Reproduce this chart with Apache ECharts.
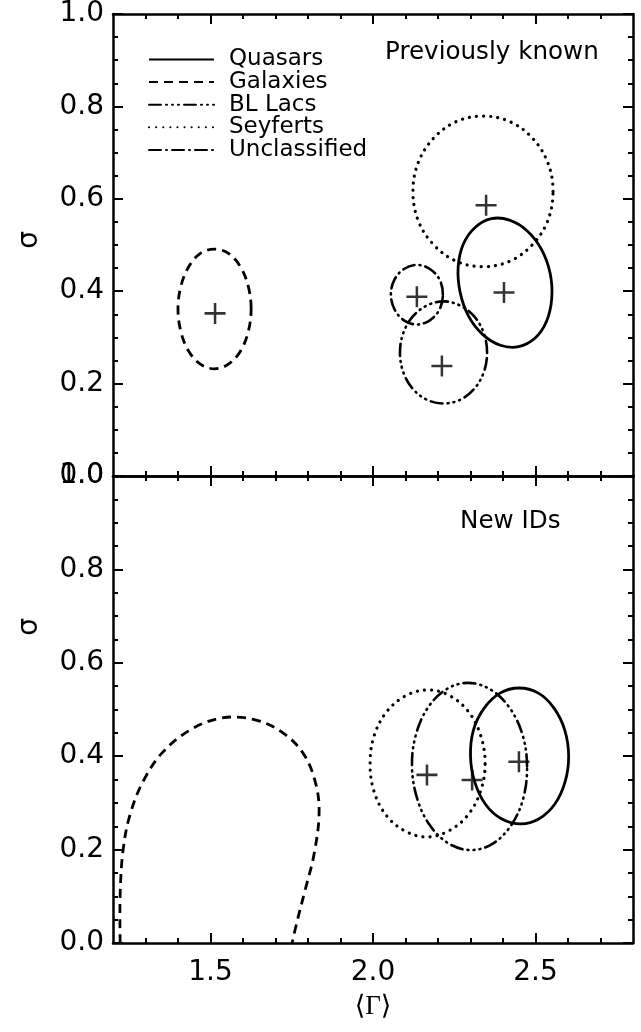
<!DOCTYPE html>
<html>
<head>
<meta charset="utf-8">
<script src="https://cdn.jsdelivr.net/npm/echarts@6/dist/echarts.min.js"></script>
<style>
  html, body { margin: 0; padding: 0; background: #fff; }
  #chart { width: 641px; height: 1032px; }
</style>
</head>
<body>
<div id="chart"></div>
<script>
// Axis ranges and tick positions
const xRange = [1.2, 2.8];
const yRange = [0, 1];
const xMajorTicks = [1.5, 2.0, 2.5];
const xMinorTicks = [1.3, 1.4, 1.6, 1.7, 1.8, 1.9, 2.1, 2.2, 2.3, 2.4, 2.6, 2.7];
const yMajorStep = 0.2;

const classNames = ['Quasars', 'Galaxies', 'BL Lacs', 'Seyferts', 'Unclassified'];

// Panel 1: previously known sources — confidence contours in (<Gamma>, sigma)
const knownQuasars = [[2.448,0.280],[2.498,0.298],[2.534,0.335],[2.550,0.385],[2.545,0.439],[2.518,0.491],[2.474,0.531],[2.420,0.554],[2.364,0.557],[2.314,0.538],[2.278,0.502],[2.262,0.452],[2.268,0.398],[2.294,0.346],[2.338,0.306],[2.392,0.283]];
const knownGalaxies = [[1.625,0.362],[1.616,0.411],[1.592,0.453],[1.555,0.482],[1.512,0.491],[1.469,0.482],[1.433,0.453],[1.409,0.411],[1.400,0.362],[1.409,0.312],[1.433,0.270],[1.469,0.242],[1.512,0.232],[1.555,0.242],[1.592,0.270],[1.616,0.312]];
const knownBLLacs = [[2.351,0.267],[2.341,0.309],[2.312,0.345],[2.268,0.369],[2.217,0.378],[2.166,0.369],[2.122,0.345],[2.093,0.309],[2.083,0.267],[2.093,0.225],[2.122,0.189],[2.166,0.165],[2.217,0.157],[2.268,0.165],[2.312,0.189],[2.341,0.225]];
const knownSeyferts = [[2.554,0.616],[2.538,0.678],[2.491,0.731],[2.421,0.767],[2.338,0.779],[2.256,0.767],[2.186,0.731],[2.139,0.678],[2.123,0.616],[2.139,0.553],[2.186,0.501],[2.256,0.465],[2.338,0.453],[2.421,0.465],[2.491,0.501],[2.538,0.553]];
const knownUnclassified = [[2.215,0.393],[2.205,0.425],[2.175,0.448],[2.135,0.457],[2.095,0.448],[2.066,0.425],[2.055,0.393],[2.066,0.361],[2.095,0.337],[2.135,0.328],[2.175,0.337],[2.205,0.361]];
const knownCentres = [[2.403,0.397],[1.514,0.352],[2.212,0.238],[2.348,0.586],[2.135,0.388]];

// Panel 2: new identifications
const newQuasars = [[2.602,0.400],[2.590,0.456],[2.557,0.503],[2.509,0.535],[2.449,0.546],[2.391,0.535],[2.342,0.503],[2.309,0.456],[2.300,0.400],[2.313,0.345],[2.346,0.297],[2.395,0.266],[2.455,0.255],[2.511,0.266],[2.559,0.297],[2.591,0.345]];
const newGalaxies = [[1.222,0.000],[1.222,0.103],[1.231,0.199],[1.252,0.274],[1.292,0.345],[1.351,0.407],[1.437,0.456],[1.535,0.482],[1.637,0.478],[1.723,0.450],[1.788,0.403],[1.825,0.338],[1.834,0.274],[1.818,0.188],[1.791,0.113],[1.766,0.045],[1.751,0.000]];
const newBLLacs = [[2.474,0.378],[2.460,0.446],[2.420,0.504],[2.361,0.543],[2.292,0.557],[2.225,0.543],[2.169,0.504],[2.132,0.446],[2.120,0.378],[2.136,0.309],[2.175,0.252],[2.233,0.213],[2.302,0.199],[2.369,0.213],[2.425,0.252],[2.462,0.309]];
const newSeyferts = [[2.345,0.384],[2.331,0.445],[2.293,0.496],[2.235,0.530],[2.170,0.542],[2.102,0.530],[2.043,0.496],[2.004,0.445],[1.991,0.384],[2.003,0.325],[2.040,0.274],[2.098,0.240],[2.166,0.227],[2.233,0.240],[2.292,0.274],[2.331,0.325]];
const newCentres = [[2.449,0.388],[2.305,0.349],[2.166,0.360]];

const INK = '#000';
const LABEL_FONT = '"DejaVu Sans", "Liberation Sans", sans-serif';

// Stroke pattern for each class
const styles = {
  'Quasars':      { type: 'solid', width: 2.8, cap: 'butt' },
  'Galaxies':     { type: [9, 6], width: 2.8, cap: 'butt' },
  'BL Lacs':      { type: [12, 5, 1, 5, 1, 5, 1, 5], width: 2.6, cap: 'round' },
  'Seyferts':     { type: [0.1, 7], width: 3.2, cap: 'round' },
  'Unclassified': { type: [12, 5, 1, 5], width: 2.6, cap: 'round' }
};

const grids = [
  { left: 113, top: 10, width: 520, height: 466 },
  { left: 113, top: 476, width: 520, height: 467 }
];

function xAxisPair(gridIndex, position, showLabels) {
  const base = {
    type: 'value', gridIndex, position, min: xRange[0], max: xRange[1],
    splitLine: { show: false }
  };
  const major = Object.assign({}, base, {
    axisLine: { show: true, onZero: false, lineStyle: { color: INK, width: 2.5 } },
    axisTick: { show: true, inside: true, length: 10, customValues: xMajorTicks, lineStyle: { color: INK, width: 2 } },
    axisLabel: showLabels
      ? { show: true, customValues: xMajorTicks, margin: 16, color: INK, fontSize: 28, fontFamily: LABEL_FONT, formatter: v => v.toFixed(1) }
      : { show: false }
  });
  if (showLabels) {
    Object.assign(major, {
      name: '\u27E8\u0393\u27E9', nameLocation: 'middle', nameGap: 50,
      nameTextStyle: { color: INK, fontSize: 27, fontFamily: '"Liberation Serif", "DejaVu Serif", serif' }
    });
  }
  const minor = Object.assign({}, base, {
    axisLine: { show: false, onZero: false },
    axisTick: { show: true, inside: true, length: 5, customValues: xMinorTicks, lineStyle: { color: INK, width: 2 } },
    axisLabel: { show: false }
  });
  return [major, minor];
}

function yAxis(gridIndex, position, showLabels) {
  return {
    type: 'value', gridIndex, position, min: yRange[0], max: yRange[1], interval: yMajorStep,
    splitLine: { show: false },
    axisLine: { show: true, onZero: false, lineStyle: { color: INK, width: 2.5 } },
    axisTick: { show: true, inside: true, length: 10, lineStyle: { color: INK, width: 2 } },
    minorTick: { show: true, splitNumber: 4, length: 5, lineStyle: { color: INK, width: 2 } },
    axisLabel: showLabels
      ? { show: true, margin: 9, padding: [5, 0, 0, 0], color: INK, fontSize: 28, fontFamily: LABEL_FONT, showMinLabel: true, showMaxLabel: true, formatter: v => v.toFixed(1) }
      : { show: false }
  };
}

const xAxes = [].concat(
  xAxisPair(0, 'bottom', false), xAxisPair(0, 'top', false),
  xAxisPair(1, 'bottom', true), xAxisPair(1, 'top', false)
);
const yAxes = [yAxis(0, 'left', true), yAxis(0, 'right', false), yAxis(1, 'left', true), yAxis(1, 'right', false)];

// Empty line series that carry the stroke patterns into the legend
const legendCarriers = classNames.map(name => ({
  type: 'line', name, data: [], xAxisIndex: 0, yAxisIndex: 0, symbol: 'none',
  lineStyle: Object.assign({ color: INK }, styles[name]), itemStyle: { color: INK }
}));

// A contour is drawn as one smooth closed (or open) path through its points,
// each point placed with the panel's own axes
function contour(name, pts, panel, closed) {
  const st = styles[name];
  return {
    type: 'custom', name, coordinateSystem: 'cartesian2d',
    xAxisIndex: panel === 0 ? 0 : 4, yAxisIndex: panel === 0 ? 0 : 2,
    data: pts, silent: true, animation: false, clip: true,
    renderItem: (params, api) => {
      if (params.dataIndex !== 0) return null;
      const points = pts.map(p => api.coord(p));
      return {
        type: closed ? 'polygon' : 'polyline',
        shape: { points, smooth: 0.36 },
        style: {
          fill: null, stroke: INK, lineWidth: st.width,
          lineDash: st.type === 'solid' ? null : st.type, lineCap: st.cap, lineJoin: 'round'
        }
      };
    }
  };
}

const PLUS = 'path://M0,8.8 L20,8.8 L20,11.2 L0,11.2 Z M8.8,0 L11.2,0 L11.2,20 L8.8,20 Z';
function centres(data, panel) {
  return {
    type: 'scatter', name: 'centre', data, xAxisIndex: panel === 0 ? 0 : 4, yAxisIndex: panel === 0 ? 0 : 2,
    symbol: PLUS, symbolSize: 21, itemStyle: { color: INK }, silent: true, animation: false
  };
}

const series = legendCarriers.concat([
  contour('Quasars', knownQuasars, 0, true),
  contour('Galaxies', knownGalaxies, 0, true),
  contour('BL Lacs', knownBLLacs, 0, true),
  contour('Seyferts', knownSeyferts, 0, true),
  contour('Unclassified', knownUnclassified, 0, true),
  centres(knownCentres, 0),
  contour('Quasars', newQuasars, 1, true),
  contour('Galaxies', newGalaxies, 1, false),
  contour('BL Lacs', newBLLacs, 1, true),
  contour('Seyferts', newSeyferts, 1, true),
  centres(newCentres, 1)
]);

const chart = echarts.init(document.getElementById('chart'), null, { renderer: 'canvas' });
chart.setOption({
  backgroundColor: '#fff',
  animation: false,
  grid: grids,
  xAxis: xAxes,
  yAxis: yAxes,
  legend: {
    data: classNames, orient: 'vertical', left: 148, top: 48, padding: 0,
    itemWidth: 65, itemHeight: 14, itemGap: -0.4, selectedMode: false,
    itemStyle: { opacity: 0 },
    textStyle: { color: INK, fontSize: 23, lineHeight: 20, fontFamily: LABEL_FONT, padding: [0, 0, 0, 10] }
  },
  graphic: [
    { type: 'text', x: 385, y: 53, style: { text: 'Previously known', fill: INK, fontSize: 24.6, fontFamily: LABEL_FONT, verticalAlign: 'middle' } },
    { type: 'text', x: 460, y: 522, style: { text: 'New IDs', fill: INK, fontSize: 24.6, fontFamily: LABEL_FONT, verticalAlign: 'middle' } },
    { type: 'text', x: 30, y: 240, rotation: Math.PI / 2, style: { text: '\u03C3', fill: INK, fontSize: 28, fontFamily: LABEL_FONT, align: 'center', verticalAlign: 'middle' } },
    { type: 'text', x: 30, y: 627, rotation: Math.PI / 2, style: { text: '\u03C3', fill: INK, fontSize: 28, fontFamily: LABEL_FONT, align: 'center', verticalAlign: 'middle' } }
  ],
  series
});
</script>
</body>
</html>
